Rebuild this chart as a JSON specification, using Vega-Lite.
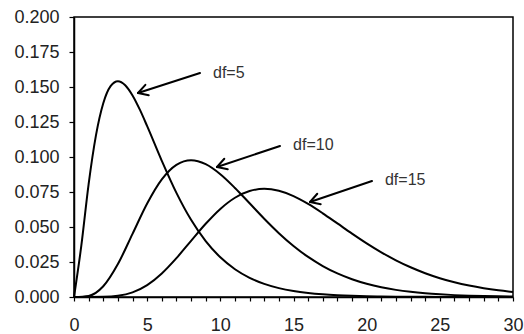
{
  "$schema": "https://vega.github.io/schema/vega-lite/v6.json",
  "autosize": "none",
  "width": 439,
  "height": 280,
  "padding": {"left": 74, "top": 17, "right": 11, "bottom": 37},
  "background": "white",
  "config": {
    "view": {"stroke": "black", "strokeWidth": 1.5},
    "axis": {"labelOverlap": false, "labelFont": "Liberation Sans", "labelFontSize": 18, "labelColor": "#222", "grid": false, "title": null}
  },
  "datasets": {
    "curves": [
      {"x": 0, "y": 0, "df": "5"}, {"x": 0.5, "y": 0.03662, "df": "5"}, {"x": 1, "y": 0.08066, "df": "5"}, {"x": 1.5, "y": 0.1154, "df": "5"}, {"x": 2, "y": 0.13837, "df": "5"}, {"x": 2.5, "y": 0.1506, "df": "5"}, {"x": 3, "y": 0.15418, "df": "5"}, {"x": 3.5, "y": 0.15131, "df": "5"}, {"x": 4, "y": 0.14398, "df": "5"}, {"x": 4.5, "y": 0.1338, "df": "5"}, {"x": 5, "y": 0.12204, "df": "5"}, {"x": 6, "y": 0.0973, "df": "5"}, {"x": 7, "y": 0.07437, "df": "5"}, {"x": 8, "y": 0.05511, "df": "5"}, {"x": 9, "y": 0.03989, "df": "5"}, {"x": 10, "y": 0.02833, "df": "5"}, {"x": 11, "y": 0.01983, "df": "5"}, {"x": 12, "y": 0.0137, "df": "5"}, {"x": 13, "y": 0.00937, "df": "5"}, {"x": 14, "y": 0.00635, "df": "5"}, {"x": 15, "y": 0.00427, "df": "5"}, {"x": 16, "y": 0.00286, "df": "5"}, {"x": 17, "y": 0.0019, "df": "5"}, {"x": 18, "y": 0.00125, "df": "5"}, {"x": 19, "y": 0.00082, "df": "5"}, {"x": 20, "y": 0.00054, "df": "5"}, {"x": 21, "y": 0.00035, "df": "5"}, {"x": 22, "y": 0.00023, "df": "5"}, {"x": 23, "y": 0.00015, "df": "5"}, {"x": 24, "y": 0.0001, "df": "5"}, {"x": 25, "y": 0.00006, "df": "5"}, {"x": 26, "y": 0.00004, "df": "5"}, {"x": 27, "y": 0.00003, "df": "5"}, {"x": 28, "y": 0.00002, "df": "5"}, {"x": 29, "y": 0.00001, "df": "5"}, {"x": 30, "y": 0.00001, "df": "5"},
      {"x": 0, "y": 0, "df": "10"}, {"x": 1, "y": 0.00079, "df": "10"}, {"x": 2, "y": 0.00766, "df": "10"}, {"x": 3, "y": 0.02353, "df": "10"}, {"x": 4, "y": 0.04511, "df": "10"}, {"x": 5, "y": 0.0668, "df": "10"}, {"x": 6, "y": 0.08402, "df": "10"}, {"x": 7, "y": 0.0944, "df": "10"}, {"x": 8, "y": 0.09768, "df": "10"}, {"x": 9, "y": 0.0949, "df": "10"}, {"x": 10, "y": 0.08773, "df": "10"}, {"x": 11, "y": 0.07791, "df": "10"}, {"x": 12, "y": 0.06693, "df": "10"}, {"x": 13, "y": 0.05591, "df": "10"}, {"x": 14, "y": 0.04561, "df": "10"}, {"x": 15, "y": 0.03646, "df": "10"}, {"x": 16, "y": 0.02863, "df": "10"}, {"x": 17, "y": 0.02213, "df": "10"}, {"x": 18, "y": 0.01687, "df": "10"}, {"x": 19, "y": 0.0127, "df": "10"}, {"x": 20, "y": 0.00946, "df": "10"}, {"x": 21, "y": 0.00697, "df": "10"}, {"x": 22, "y": 0.00509, "df": "10"}, {"x": 23, "y": 0.00369, "df": "10"}, {"x": 24, "y": 0.00265, "df": "10"}, {"x": 25, "y": 0.0019, "df": "10"}, {"x": 26, "y": 0.00134, "df": "10"}, {"x": 27, "y": 0.00095, "df": "10"}, {"x": 28, "y": 0.00067, "df": "10"}, {"x": 29, "y": 0.00046, "df": "10"}, {"x": 30, "y": 0.00032, "df": "10"},
      {"x": 0, "y": 0, "df": "15"}, {"x": 1, "y": 0.000002, "df": "15"}, {"x": 2, "y": 0.0001, "df": "15"}, {"x": 3, "y": 0.00083, "df": "15"}, {"x": 4, "y": 0.00327, "df": "15"}, {"x": 5, "y": 0.00847, "df": "15"}, {"x": 6, "y": 0.0168, "df": "15"}, {"x": 7, "y": 0.02775, "df": "15"}, {"x": 8, "y": 0.04009, "df": "15"}, {"x": 9, "y": 0.05229, "df": "15"}, {"x": 10, "y": 0.0629, "df": "15"}, {"x": 11, "y": 0.07089, "df": "15"}, {"x": 12, "y": 0.07569, "df": "15"}, {"x": 13, "y": 0.07724, "df": "15"}, {"x": 14, "y": 0.07584, "df": "15"}, {"x": 15, "y": 0.07203, "df": "15"}, {"x": 16, "y": 0.06646, "df": "15"}, {"x": 17, "y": 0.05978, "df": "15"}, {"x": 18, "y": 0.05257, "df": "15"}, {"x": 19, "y": 0.04531, "df": "15"}, {"x": 20, "y": 0.03835, "df": "15"}, {"x": 21, "y": 0.03194, "df": "15"}, {"x": 22, "y": 0.02622, "df": "15"}, {"x": 23, "y": 0.02123, "df": "15"}, {"x": 24, "y": 0.01698, "df": "15"}, {"x": 25, "y": 0.01343, "df": "15"}, {"x": 26, "y": 0.01051, "df": "15"}, {"x": 27, "y": 0.00815, "df": "15"}, {"x": 28, "y": 0.00626, "df": "15"}, {"x": 29, "y": 0.00477, "df": "15"}, {"x": 30, "y": 0.0036, "df": "15"}
    ],
    "arrows": [
      {"x": 8.611, "y": 0.16, "x2": 4.374, "y2": 0.1457},
      {"x": 4.374, "y": 0.1457, "x2": 5.108, "y2": 0.14406},
      {"x": 4.374, "y": 0.1457, "x2": 4.878, "y2": 0.15154},
      {"x": 14.078, "y": 0.10786, "x2": 9.772, "y2": 0.09286},
      {"x": 9.772, "y": 0.09286, "x2": 10.509, "y2": 0.09128},
      {"x": 9.772, "y": 0.09286, "x2": 10.271, "y2": 0.09874},
      {"x": 20.365, "y": 0.08286, "x2": 16.128, "y2": 0.06786},
      {"x": 16.128, "y": 0.06786, "x2": 16.865, "y2": 0.06632},
      {"x": 16.128, "y": 0.06786, "x2": 16.624, "y2": 0.07376}
    ],
    "labels": [
      {"x": 9.5, "y": 0.16, "label": "df=5"},
      {"x": 14.97, "y": 0.1086, "label": "df=10"},
      {"x": 21.25, "y": 0.0836, "label": "df=15"}
    ]
  },
  "encoding": {
    "x": {
      "field": "x", "type": "quantitative",
      "scale": {"domain": [0, 30], "nice": false, "zero": false},
      "axis": {
        "values": [0,1,2,3,4,5,6,7,8,9,10,11,12,13,14,15,16,17,18,19,20,21,22,23,24,25,26,27,28,29,30],
        "labelExpr": "datum.value % 5 === 0 ? datum.label : ''",
        "labelOverlap": false,
        "labelFontSize": 18,
        "domainColor": "black",
        "domainWidth": 1.5,
        "tickColor": "black",
        "tickWidth": 1.2,
        "tickSize": 4,
        "labelPadding": 15,
        "labelFlush": false
      }
    },
    "y": {
      "field": "y", "type": "quantitative",
      "scale": {"domain": [0, 0.2], "nice": false},
      "axis": {
        "values": [0, 0.025, 0.05, 0.075, 0.1, 0.125, 0.15, 0.175, 0.2],
        "format": ".3f",
        "labelOverlap": false,
        "labelFontSize": 18,
        "domainColor": "black",
        "domainWidth": 1.5,
        "tickColor": "black",
        "tickWidth": 1.2,
        "tickSize": 5,
        "labelPadding": 10,
        "labelFlush": false
      }
    }
  },
  "layer": [
    {
      "data": {"name": "curves"},
      "mark": {"type": "line", "color": "black", "strokeWidth": 2, "interpolate": "monotone"},
      "encoding": {
        "detail": {"field": "df", "type": "nominal"}
      }
    },
    {
      "data": {"name": "arrows"},
      "mark": {"type": "rule", "color": "black", "strokeWidth": 2, "strokeCap": "round"},
      "encoding": {
        "x2": {"field": "x2"},
        "y2": {"field": "y2"}
      }
    },
    {
      "data": {"name": "labels"},
      "mark": {"type": "text", "align": "left", "baseline": "middle", "font": "Liberation Sans", "fontSize": 16, "color": "#333"},
      "encoding": {
        "text": {"field": "label"}
      }
    }
  ]
}
